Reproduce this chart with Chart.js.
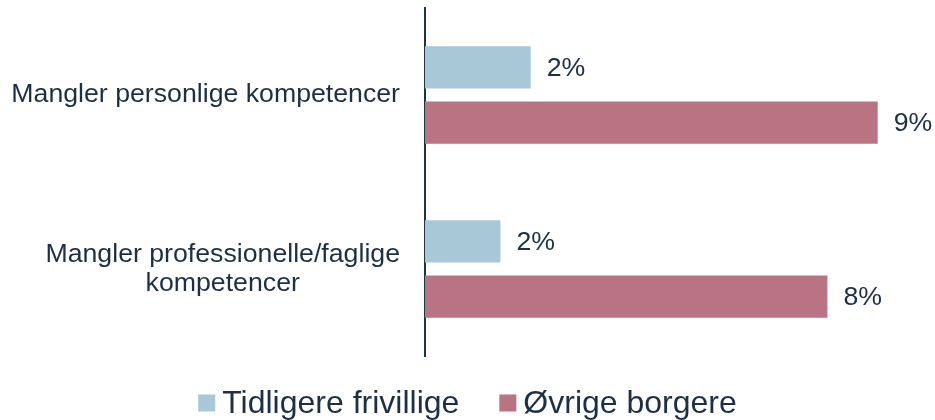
<!DOCTYPE html>
<html lang="da">
<head>
<meta charset="utf-8">
<title>Manglende kompetencer</title>
<script src="https://cdn.jsdelivr.net/npm/chart.js@4.4.1/dist/chart.umd.min.js"></script>
<style>
  html, body { margin: 0; padding: 0; background: #fff; }
  #wrap { width: 935px; height: 420px; position: relative; }
</style>
</head>
<body>
<div id="wrap"><canvas id="chart"></canvas></div>
<script>
// Kategorier (linjeskift som i figuren)
const categories = [
  ['Mangler personlige kompetencer'],
  ['Mangler professionelle/faglige', 'kompetencer']
];
const seriesNames = ['Tidligere frivillige', 'Øvrige borgere'];
const tidligereFrivillige = [2.1, 1.5];
const oevrigeBorgere = [9.0, 8.0];

const TEXT = '#1c2f45';
const FONT = '"Liberation Sans", Arial, sans-serif';

// Kategorinavne: centreret pr. linje, højrestillet som blok mod aksen
const categoryLabels = {
  id: 'categoryLabels',
  afterDraw(chart) {
    const { ctx } = chart;
    const y = chart.scales.y;
    const lineH = 29.5;
    ctx.save();
    ctx.font = '26.7px ' + FONT;
    ctx.fillStyle = TEXT;
    ctx.textAlign = 'center';
    ctx.textBaseline = 'middle';
    categories.forEach((lines, i) => {
      const cy = y.getPixelForValue(i);
      const blockW = Math.max(...lines.map(l => ctx.measureText(l).width));
      const cx = y.right - 25 - blockW / 2;
      lines.forEach((line, j) => {
        ctx.fillText(line, cx, cy + (j - (lines.length - 1) / 2) * lineH);
      });
    });
    ctx.restore();
  }
};

// Procentværdier ved enden af hver søjle
const valueLabels = {
  id: 'valueLabels',
  afterDatasetsDraw(chart) {
    const { ctx } = chart;
    ctx.save();
    ctx.font = '26.7px ' + FONT;
    ctx.fillStyle = TEXT;
    ctx.textAlign = 'left';
    ctx.textBaseline = 'middle';
    chart.data.datasets.forEach((ds, di) => {
      chart.getDatasetMeta(di).data.forEach((bar, i) => {
        ctx.fillText(Math.round(ds.data[i]) + '%', bar.x + 16, bar.y + 1);
      });
    });
    ctx.restore();
  }
};

// Forklaring under grafen: lille kvadrat tæt på teksten
const bottomLegend = {
  id: 'bottomLegend',
  afterDraw(chart) {
    const { ctx, width } = chart;
    const box = 17, gap = 7, spacing = 40, cy = 403;
    ctx.save();
    ctx.font = '32px ' + FONT;
    ctx.textBaseline = 'middle';
    ctx.textAlign = 'left';
    const items = chart.data.datasets.map(ds => ({
      text: ds.label,
      color: ds.backgroundColor,
      w: box + gap + ctx.measureText(ds.label).width
    }));
    const total = items.reduce((s, it) => s + it.w, 0) + spacing * (items.length - 1);
    let x = (width - total) / 2;
    items.forEach(it => {
      ctx.fillStyle = it.color;
      ctx.fillRect(x, cy - box / 2, box, box);
      ctx.fillStyle = TEXT;
      ctx.fillText(it.text, x + box + gap, cy + 1);
      x += it.w + spacing;
    });
    ctx.restore();
  }
};

new Chart(document.getElementById('chart'), {
  type: 'bar',
  data: {
    labels: categories,
    datasets: [
      {
        label: seriesNames[0],
        data: tidligereFrivillige,
        backgroundColor: '#a8c7d7',
        borderWidth: 0,
        categoryPercentage: 0.634,
        barPercentage: 0.764
      },
      {
        label: seriesNames[1],
        data: oevrigeBorgere,
        backgroundColor: '#b97383',
        borderWidth: 0,
        categoryPercentage: 0.634,
        barPercentage: 0.764
      }
    ]
  },
  options: {
    indexAxis: 'y',
    responsive: true,
    maintainAspectRatio: false,
    animation: false,
    layout: { padding: { top: 8, right: 7, left: 0, bottom: 64 } },
    scales: {
      x: {
        min: 0,
        max: 10,
        display: false
      },
      y: {
        grid: { display: false },
        border: { display: true, color: '#1d3347', width: 2 },
        ticks: { display: false },
        afterFit(scale) { scale.width = 425; }
      }
    },
    plugins: {
      legend: { display: false },
      tooltip: { enabled: false }
    }
  },
  plugins: [categoryLabels, valueLabels, bottomLegend]
});
</script>
</body>
</html>
